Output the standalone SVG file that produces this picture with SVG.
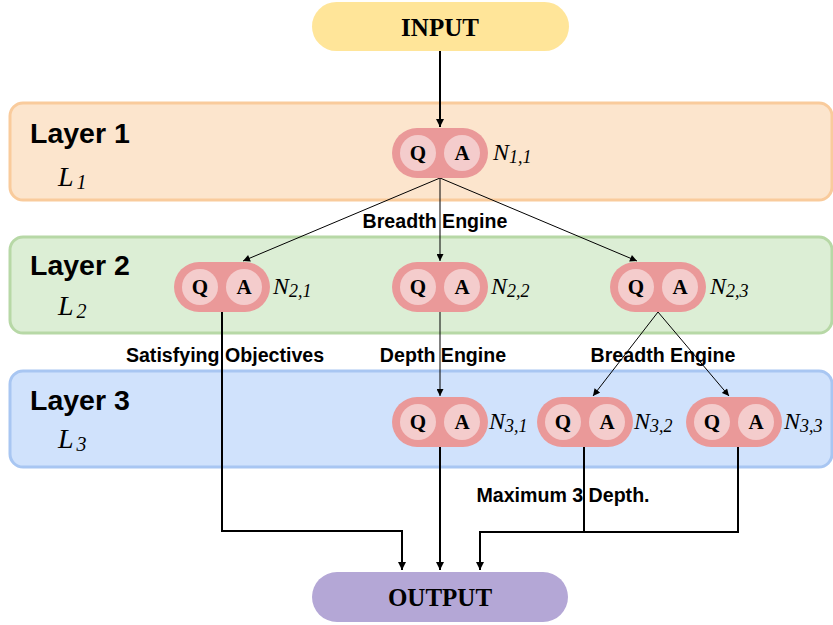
<svg xmlns="http://www.w3.org/2000/svg" width="833" height="625" viewBox="0 0 833 625">
<style>
.layer-t{font-family:"Liberation Sans",Arial,sans-serif;font-weight:bold;font-size:28.5px;fill:#000}
.lsym{font-family:"Liberation Serif","Times New Roman",serif;font-style:italic;font-size:28px;fill:#000}
.lsub{font-size:20px}
.pill{fill:#EA9999}
.circ{fill:#F4CCCC}
.qa{font-family:"Liberation Serif","Times New Roman",serif;font-weight:bold;font-size:21px;text-anchor:middle;fill:#000}
.nl{font-family:"Liberation Serif","Times New Roman",serif;font-style:italic;font-size:24px;fill:#000}
.nsub{font-size:18px}
.elab{font-family:"Liberation Sans",Arial,sans-serif;font-weight:bold;font-size:19.6px;text-anchor:middle;fill:#000}
.io{font-family:"Liberation Serif","Times New Roman",serif;font-weight:bold;font-size:25px;text-anchor:middle;fill:#000}
.thin{stroke:#000;stroke-width:1;fill:none}
.thick{stroke:#000;stroke-width:2;fill:none}
</style>
<defs>
<marker id="arr" viewBox="0 0 10 10" refX="10" refY="5" markerWidth="8" markerHeight="7" markerUnits="userSpaceOnUse" orient="auto">
<path d="M0,0 L10,5 L0,10 z" fill="#000"/>
</marker>
<marker id="arrT" viewBox="0 0 10 10" refX="10" refY="5" markerWidth="10" markerHeight="8" markerUnits="userSpaceOnUse" orient="auto">
<path d="M0,0 L10,5 L0,10 z" fill="#000"/>
</marker>
</defs>

<g id="layer1">
<rect x="10" y="103" width="822" height="97" rx="13" fill="#FCE5CD" stroke="#F9CB9C" stroke-width="3"/>
<text class="layer-t" x="30" y="143">Layer 1</text>
<text class="lsym" x="58" y="186">L<tspan class="lsub" dx="3" dy="3">1</tspan></text>
</g>
<g id="layer2">
<rect x="10" y="237" width="822" height="96" rx="13" fill="#DCEED5" stroke="#B7D8A6" stroke-width="3"/>
<text class="layer-t" x="30" y="275">Layer 2</text>
<text class="lsym" x="58" y="315">L<tspan class="lsub" dx="3" dy="3">2</tspan></text>
</g>
<g id="layer3">
<rect x="10" y="371" width="822" height="96" rx="13" fill="#D0E2FC" stroke="#A8C6F2" stroke-width="3"/>
<text class="layer-t" x="30" y="410">Layer 3</text>
<text class="lsym" x="58" y="448">L<tspan class="lsub" dx="3" dy="3">3</tspan></text>
</g>

<g id="input">
<rect x="312" y="2" width="257" height="49" rx="24.5" fill="#FFE599"/>
<text class="io" x="440" y="36">INPUT</text>
</g>
<g id="output">
<rect x="312" y="572" width="256" height="50" rx="25" fill="#B4A7D6"/>
<text class="io" x="440" y="606">OUTPUT</text>
</g>

<g id="connectors">
<line class="thick" x1="440" y1="51" x2="440" y2="127" marker-end="url(#arrT)"/>
<line class="thin" x1="440" y1="178" x2="243" y2="261" marker-end="url(#arr)"/>
<line class="thin" x1="440" y1="178" x2="440" y2="261" marker-end="url(#arr)"/>
<line class="thin" x1="440" y1="178" x2="637" y2="261" marker-end="url(#arr)"/>
<line class="thin" x1="440" y1="312" x2="440" y2="396" marker-end="url(#arr)"/>
<line class="thin" x1="658" y1="312" x2="593" y2="396" marker-end="url(#arr)"/>
<line class="thin" x1="658" y1="312" x2="729" y2="396" marker-end="url(#arr)"/>
<polyline class="thick" points="222,312 222,531 402,531 402,570" marker-end="url(#arrT)"/>
<line class="thick" x1="440" y1="447" x2="440" y2="570" marker-end="url(#arrT)"/>
<polyline class="thick" points="738,447 738,532 480,532 480,570" marker-end="url(#arrT)"/>
<line class="thick" x1="584" y1="447" x2="584" y2="532"/>
</g>

<g id="edge-labels">
<text class="elab" x="435" y="228">Breadth Engine</text>
<text class="elab" x="225" y="362">Satisfying Objectives</text>
<text class="elab" x="443" y="362">Depth Engine</text>
<text class="elab" x="663" y="362">Breadth Engine</text>
<text class="elab" x="563" y="502">Maximum 3 Depth.</text>
</g>

<g id="n11">
<rect class="pill" x="392" y="128" width="96" height="50" rx="25"/>
<circle class="circ" cx="418" cy="153" r="18"/><circle class="circ" cx="462" cy="153" r="18"/>
<text class="qa" x="418" y="160">Q</text><text class="qa" x="462" y="160">A</text>
<text class="nl" x="493" y="160">N<tspan class="nsub" dy="3">1,1</tspan></text>
</g>
<g id="n21">
<rect class="pill" x="174" y="262" width="96" height="50" rx="25"/>
<circle class="circ" cx="200" cy="287" r="18"/><circle class="circ" cx="244" cy="287" r="18"/>
<text class="qa" x="200" y="294">Q</text><text class="qa" x="244" y="294">A</text>
<text class="nl" x="273" y="294">N<tspan class="nsub" dy="3">2,1</tspan></text>
</g>
<g id="n22">
<rect class="pill" x="392" y="262" width="96" height="50" rx="25"/>
<circle class="circ" cx="418" cy="287" r="18"/><circle class="circ" cx="462" cy="287" r="18"/>
<text class="qa" x="418" y="294">Q</text><text class="qa" x="462" y="294">A</text>
<text class="nl" x="491" y="294">N<tspan class="nsub" dy="3">2,2</tspan></text>
</g>
<g id="n23">
<rect class="pill" x="610" y="262" width="96" height="50" rx="25"/>
<circle class="circ" cx="636" cy="287" r="18"/><circle class="circ" cx="680" cy="287" r="18"/>
<text class="qa" x="636" y="294">Q</text><text class="qa" x="680" y="294">A</text>
<text class="nl" x="710" y="294">N<tspan class="nsub" dy="3">2,3</tspan></text>
</g>
<g id="n31">
<rect class="pill" x="392" y="397" width="96" height="50" rx="25"/>
<circle class="circ" cx="418" cy="422" r="18"/><circle class="circ" cx="462" cy="422" r="18"/>
<text class="qa" x="418" y="429">Q</text><text class="qa" x="462" y="429">A</text>
<text class="nl" x="489" y="429">N<tspan class="nsub" dy="3">3,1</tspan></text>
</g>
<g id="n32">
<rect class="pill" x="537" y="397" width="96" height="50" rx="25"/>
<circle class="circ" cx="563" cy="422" r="18"/><circle class="circ" cx="607" cy="422" r="18"/>
<text class="qa" x="563" y="429">Q</text><text class="qa" x="607" y="429">A</text>
<text class="nl" x="634" y="429">N<tspan class="nsub" dy="3">3,2</tspan></text>
</g>
<g id="n33">
<rect class="pill" x="686" y="397" width="96" height="50" rx="25"/>
<circle class="circ" cx="712" cy="422" r="18"/><circle class="circ" cx="756" cy="422" r="18"/>
<text class="qa" x="712" y="429">Q</text><text class="qa" x="756" y="429">A</text>
<text class="nl" x="784" y="429">N<tspan class="nsub" dy="3">3,3</tspan></text>
</g>
</svg>
